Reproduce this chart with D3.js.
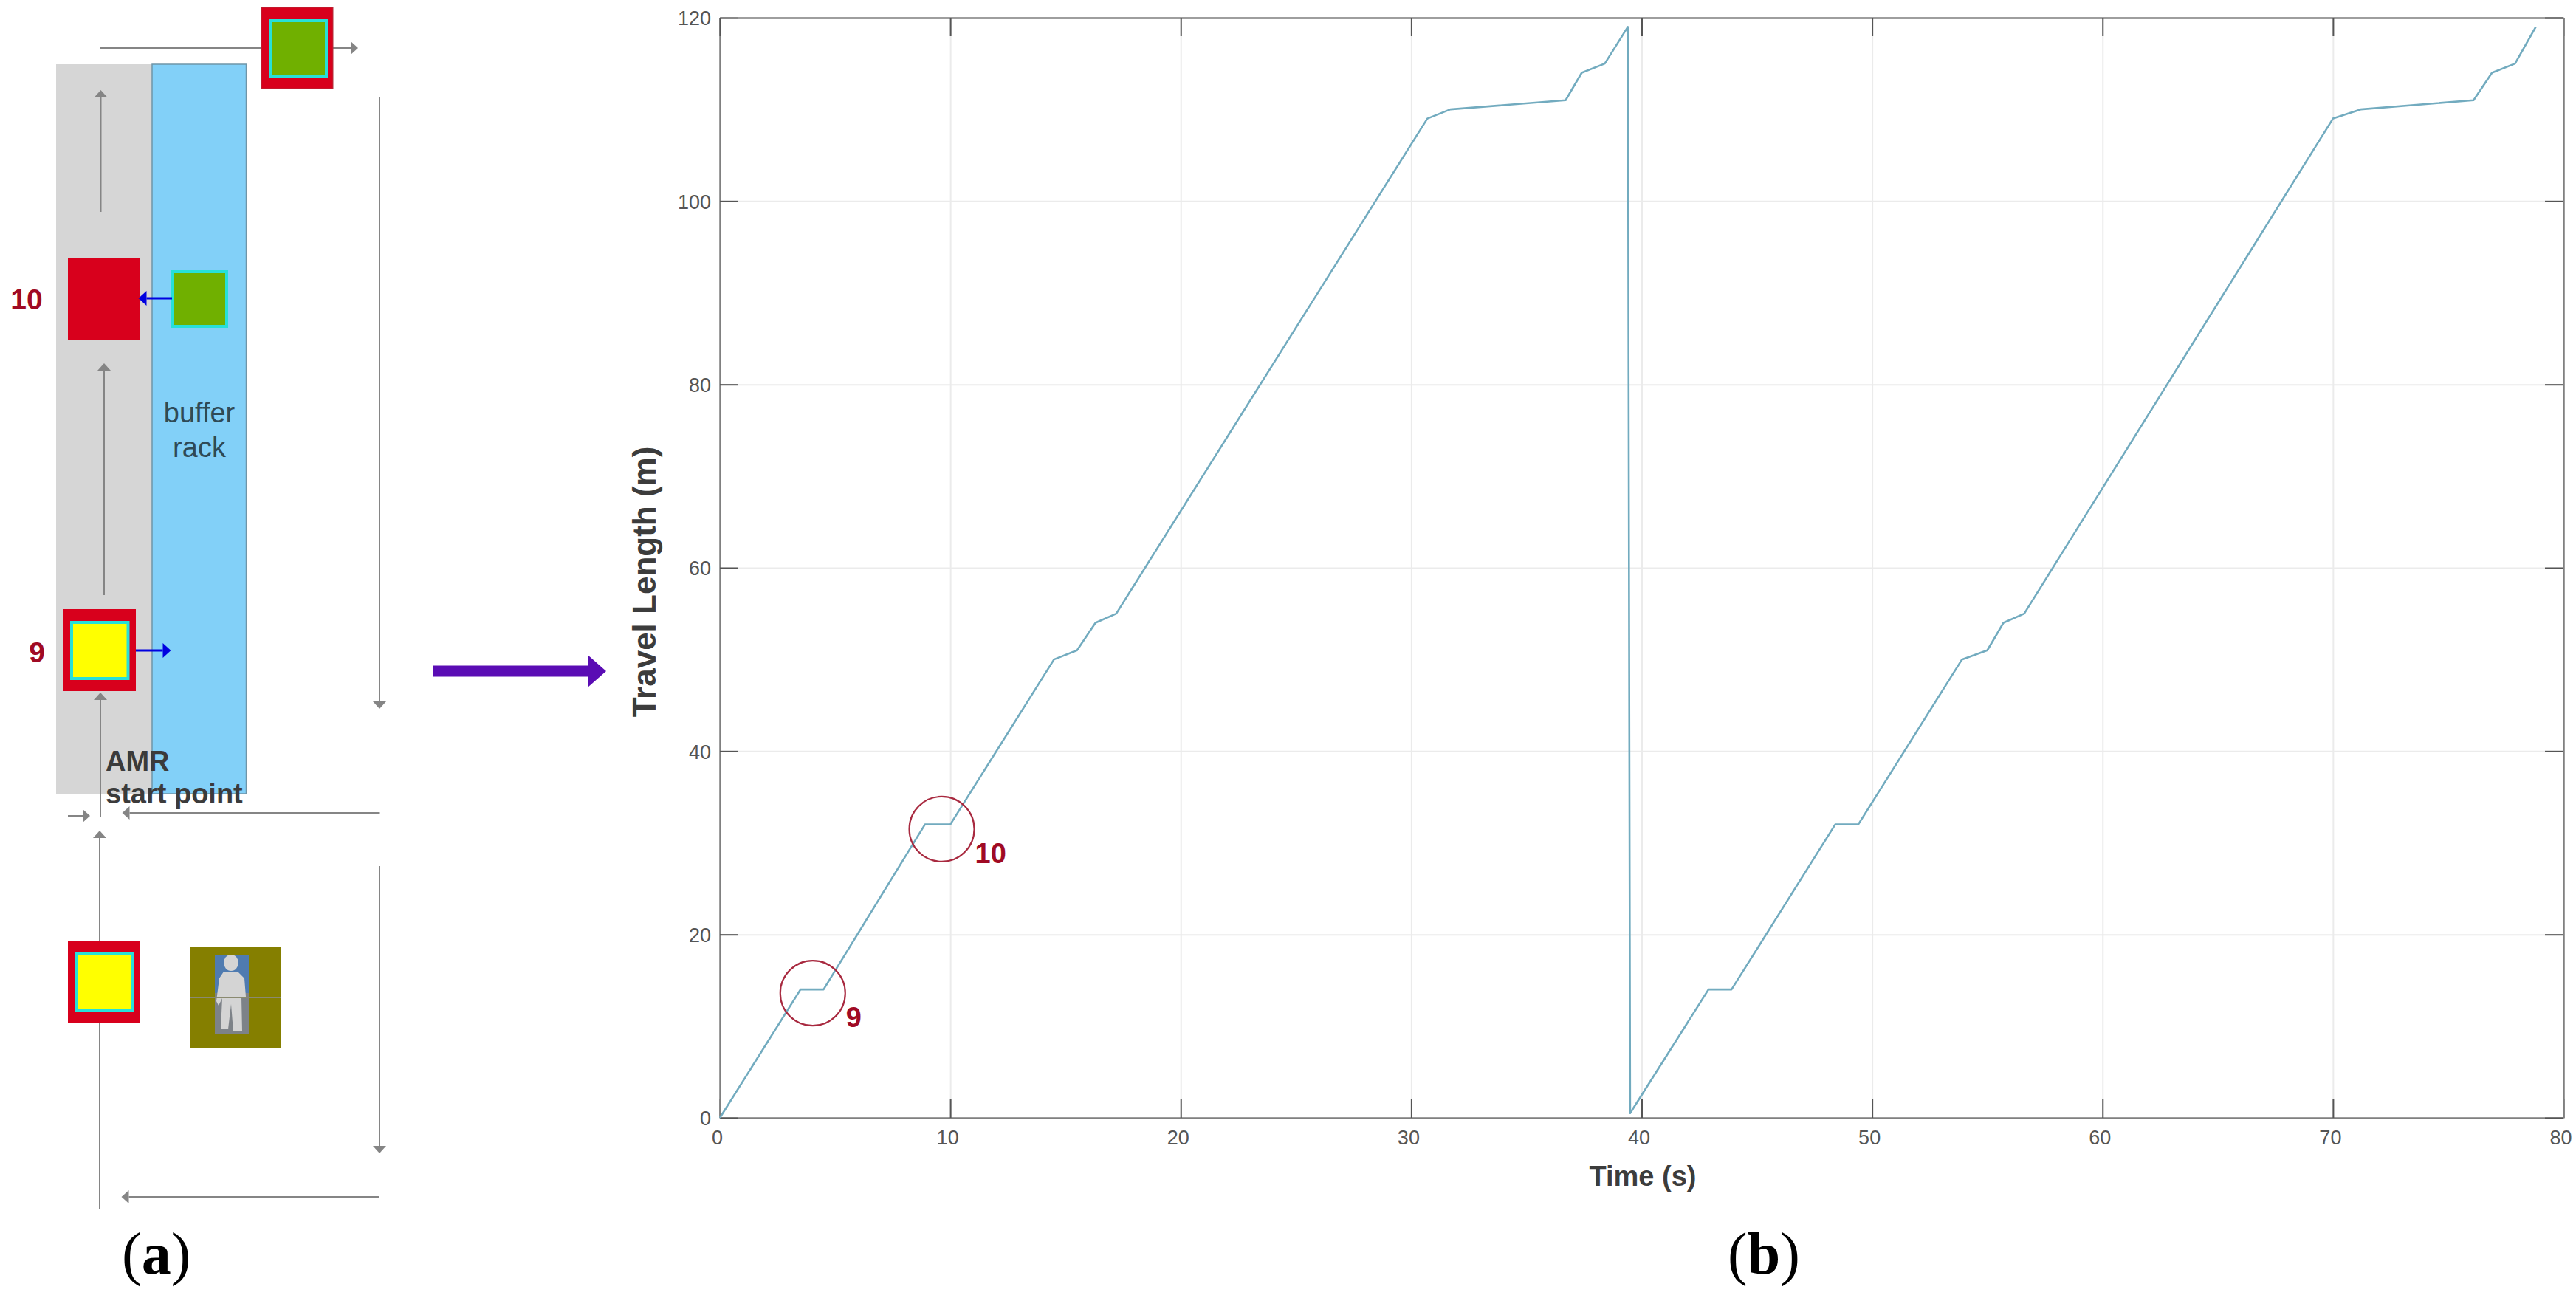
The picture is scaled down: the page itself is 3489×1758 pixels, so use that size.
<!DOCTYPE html>
<html>
<head>
<meta charset="utf-8">
<script src="https://cdn.jsdelivr.net/npm/d3@7"></script>
<style>
  html, body { margin: 0; padding: 0; background: #fff; }
  text { font-family: "Liberation Sans", sans-serif; }
</style>
</head>
<body>
<div id="figure"></div>
<script>
// values
var timeValues = [0, 3.5, 4.5, 8.9, 10, 14.5, 15.5, 16.3, 17.2, 30.7, 31.7, 36.7, 37.4, 38.4, 39.4, 39.5,
    42.9, 43.9, 48.4, 49.4, 53.9, 55, 55.7, 56.6, 70, 71.2, 76.1, 76.9, 77.9, 78.8];
var lengthValues = [0, 14, 14, 32, 32, 50, 51, 54, 55, 109, 110, 111, 114, 115, 119, 0.5,
    14, 14, 32, 32, 50, 51, 54, 55, 109, 110, 111, 114, 115, 119];
var xTicks = [0, 10, 20, 30, 40, 50, 60, 70, 80];
var yTicks = [0, 20, 40, 60, 80, 100, 120];
var circleNames = ['9', '10'];
var circleTimes = [4.03, 9.63];
var circleLengths = [13.6, 31.5];

var svgWidth = 3489;
var svgHeight = 1758;
var margin = { top: 24, right: 17, bottom: 244, left: 975 };
var width = svgWidth - margin.left - margin.right;
var height = svgHeight - margin.top - margin.bottom;

var darkRed = '#a00a24';
var arrowGrey = '#858585';

var svg = d3.select('#figure')
    .append('svg')
    .attr('width', svgWidth)
    .attr('height', svgHeight)
    .style('display', 'block');

svg.append('rect').attr('width', svgWidth).attr('height', svgHeight).attr('fill', '#fff');

// ---------- panel (a), the schematic ----------
var panelA = svg.append('g');

function box(x0, y0, x1, y1, fill, stroke, strokeWidth) {
    return panelA.append('rect')
        .attr('x', x0).attr('y', y0)
        .attr('width', x1 - x0).attr('height', y1 - y0)
        .attr('fill', fill)
        .attr('stroke', stroke || 'none')
        .attr('stroke-width', strokeWidth || 0);
}

// line with a triangle head, the head ends at (x2, y2)
function arrow(x1, y1, x2, y2, color, lineWidth, headLength, headHalf) {
    var angle = Math.atan2(y2 - y1, x2 - x1);
    var c = Math.cos(angle), s = Math.sin(angle);
    var bx = x2 - headLength * c, by = y2 - headLength * s;
    panelA.append('line')
        .attr('x1', x1).attr('y1', y1).attr('x2', bx).attr('y2', by)
        .attr('stroke', color).attr('stroke-width', lineWidth);
    panelA.append('polygon')
        .attr('points', [[x2, y2], [bx - headHalf * s, by + headHalf * c], [bx + headHalf * s, by - headHalf * c]].join(' '))
        .attr('fill', color);
}

function greyArrow(x1, y1, x2, y2) {
    arrow(x1, y1, x2, y2, arrowGrey, 2, 10, 9);
}

// a coloured load with the cyan edge
function load(x0, y0, x1, y1, fill) {
    box(x0 + 2, y0 + 2, x1 - 2, y1 - 2, fill, '#27e0d8', 4);
}

box(76, 87, 206, 1075, '#d6d6d6');
box(206, 87, 333.5, 1075, '#82d0f8', '#6f95a8', 1.5);

greyArrow(136, 65, 485, 65);
box(354, 10, 451, 120, '#d8001c', '#b0303c', 1);
load(364, 26, 444, 105, '#70b000');

greyArrow(136.5, 287, 136.5, 122);

box(92, 349, 190, 460, '#d8001c');
load(232, 366, 309, 444, '#70b000');
arrow(233, 404, 187.5, 404, '#0000e0', 3, 11, 10);

greyArrow(141, 806, 141, 492);

greyArrow(136, 1106, 136, 938);
box(86, 825, 184, 936, '#d8001c');
load(95, 841, 175.5, 921, '#ffff00');
arrow(184, 881, 231.5, 881, '#0000e0', 3, 11, 10);

greyArrow(514, 131, 514, 960);
greyArrow(514.5, 1101, 165.5, 1101);
greyArrow(92, 1105, 122, 1105);

greyArrow(514, 1173, 514, 1562);
greyArrow(513, 1621, 164.5, 1621);

greyArrow(135, 1638, 135, 1125);
box(92, 1275, 190, 1385, '#d8001c');
load(101, 1290, 181.5, 1370, '#ffff00');

// worker standing on the olive square
box(257, 1282, 381, 1420, '#857f00');
box(291, 1293, 337, 1345, '#4f7bb0');
box(291, 1345, 337, 1401, '#7d8288');
panelA.append('ellipse')
    .attr('cx', 313).attr('cy', 1304).attr('rx', 10).attr('ry', 11)
    .attr('fill', '#d4d4d4');
panelA.append('path')
    .attr('d', 'M 303 1316 L 322 1316 L 331 1325 L 333 1350 L 327 1350 L 328 1396 L 316 1397 L 313 1360 L 309 1394 L 299 1394 L 301 1352 L 296 1362 L 293 1356 L 297 1325 Z')
    .attr('fill', '#d4d4d4');
panelA.append('line')
    .attr('x1', 257).attr('y1', 1351).attr('x2', 381).attr('y2', 1351)
    .attr('stroke', '#8a8a70').attr('stroke-width', 2);

// purple arrow between the panels
arrow(586, 909, 821, 909, '#5a0cb4', 15, 25, 22);

panelA.append('text').attr('x', 36).attr('y', 419).text('10')
    .attr('text-anchor', 'middle').attr('font-size', 39).attr('font-weight', 'bold').attr('fill', darkRed);
panelA.append('text').attr('x', 50).attr('y', 897).text('9')
    .attr('text-anchor', 'middle').attr('font-size', 39).attr('font-weight', 'bold').attr('fill', darkRed);
panelA.append('text').attr('x', 270).attr('y', 572).text('buffer')
    .attr('text-anchor', 'middle').attr('font-size', 38).attr('fill', '#2f4a56');
panelA.append('text').attr('x', 270).attr('y', 619).text('rack')
    .attr('text-anchor', 'middle').attr('font-size', 38).attr('fill', '#2f4a56');
panelA.append('text').attr('x', 143).attr('y', 1044).text('AMR')
    .attr('font-size', 38).attr('font-weight', 'bold').attr('fill', '#3b3b3b');
panelA.append('text').attr('x', 143).attr('y', 1088).text('start point')
    .attr('font-size', 38).attr('font-weight', 'bold').attr('fill', '#3b3b3b');

// ---------- panel (b), the chart ----------
var chartGroup = svg.append('g')
    .attr('transform', `translate(${margin.left}, ${margin.top})`);

var xScale = d3.scaleLinear().domain([0, 80]).range([0, width]);
var yScale = d3.scaleLinear().domain([0, 120]).range([height, 0]);

// grid lines
chartGroup.append('g')
    .attr('transform', `translate(0, ${height})`)
    .call(d3.axisBottom(xScale).tickValues(xTicks).tickSize(-height).tickFormat(''))
    .call(g => g.select('.domain').remove())
    .selectAll('line').attr('stroke', '#ebebeb').attr('stroke-width', 2);
chartGroup.append('g')
    .call(d3.axisLeft(yScale).tickValues(yTicks).tickSize(-width).tickFormat(''))
    .call(g => g.select('.domain').remove())
    .selectAll('line').attr('stroke', '#ebebeb').attr('stroke-width', 2);

// axes, ticks point inward on all four sides
var tickLength = 25;
var xAxisBottom = chartGroup.append('g')
    .attr('transform', `translate(0, ${height})`)
    .call(d3.axisBottom(xScale).tickValues(xTicks).tickSizeInner(-tickLength).tickSizeOuter(0).tickPadding(17));
var yAxisLeft = chartGroup.append('g')
    .call(d3.axisLeft(yScale).tickValues(yTicks).tickSizeInner(-tickLength).tickSizeOuter(0).tickPadding(12));
var xAxisTop = chartGroup.append('g')
    .call(d3.axisTop(xScale).tickValues(xTicks).tickSizeInner(-tickLength).tickSizeOuter(0).tickFormat(''));
var yAxisRight = chartGroup.append('g')
    .attr('transform', `translate(${width}, 0)`)
    .call(d3.axisRight(yScale).tickValues(yTicks).tickSizeInner(-tickLength).tickSizeOuter(0).tickFormat(''));

[xAxisBottom, yAxisLeft, xAxisTop, yAxisRight].forEach(function(axis) {
    axis.select('.domain').attr('stroke', '#808080').attr('stroke-width', 2.5);
    axis.selectAll('.tick line').attr('stroke', '#555').attr('stroke-width', 2);
    axis.selectAll('.tick text')
        .attr('font-size', 27)
        .attr('font-family', '"Liberation Sans", sans-serif')
        .attr('fill', '#555');
});
xAxisBottom.selectAll('.tick text').attr('dx', -4);
yAxisLeft.selectAll('.tick text').attr('dy', '0.36em');

// the travel curve
var travelLine = d3.line()
    .x(i => xScale(timeValues[i]))
    .y(i => yScale(lengthValues[i]));

chartGroup.append('path')
    .datum(d3.range(timeValues.length))
    .attr('d', travelLine)
    .attr('fill', 'none')
    .attr('stroke', '#72abbf')
    .attr('stroke-width', 2.6)
    .attr('stroke-linejoin', 'round');

// circles marking stops 9 and 10
var stopCircles = chartGroup.selectAll('.stop')
    .data(circleNames)
    .enter()
    .append('g')
    .attr('class', 'stop')
    .attr('transform', (d, i) => `translate(${xScale(circleTimes[i])}, ${yScale(circleLengths[i])})`);

stopCircles.append('circle')
    .attr('r', 44)
    .attr('fill', 'none')
    .attr('stroke', '#a8293f')
    .attr('stroke-width', 2.2);

stopCircles.append('text')
    .text(d => d)
    .attr('x', 45)
    .attr('y', 46)
    .attr('font-size', 38)
    .attr('font-weight', 'bold')
    .attr('fill', darkRed);

// axis titles
chartGroup.append('text')
    .attr('transform', `translate(${888 - margin.left}, ${788 - margin.top}) rotate(-90)`)
    .attr('text-anchor', 'middle')
    .attr('font-size', 44)
    .attr('font-weight', 'bold')
    .attr('fill', '#3c3c3c')
    .text('Travel Length (m)');

chartGroup.append('text')
    .attr('x', 2225 - margin.left)
    .attr('y', 1606 - margin.top)
    .attr('text-anchor', 'middle')
    .attr('font-size', 38)
    .attr('font-weight', 'bold')
    .attr('fill', '#3c3c3c')
    .text('Time (s)');

// panel letters
function panelLetter(x, letter) {
    var label = svg.append('text')
        .attr('x', x)
        .attr('y', 1725)
        .attr('font-size', 80)
        .attr('fill', '#000')
        .style('font-family', '"Liberation Serif", serif');
    label.append('tspan').text('(');
    label.append('tspan').attr('font-weight', 'bold').text(letter);
    label.append('tspan').text(')');
}
panelLetter(165, 'a');
panelLetter(2340, 'b');
</script>
</body>
</html>
